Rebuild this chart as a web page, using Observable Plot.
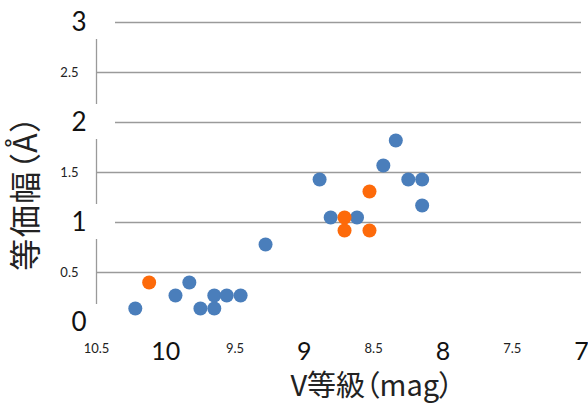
<!DOCTYPE html>
<html><head><meta charset="utf-8">
<script src="https://cdn.jsdelivr.net/npm/d3@7"></script>
<script src="https://cdn.jsdelivr.net/npm/@observablehq/plot@0.6"></script>
<style>body{margin:0;background:#fff}</style>
</head><body><div id="chart"></div>
<script>
// Series 1 (blue): V magnitude, equivalent width
const blueV = [10.22, 9.93, 9.83, 9.75, 9.65, 9.65, 9.56, 9.46, 9.28, 8.89, 8.81, 8.62, 8.43, 8.34, 8.25, 8.15, 8.15];
const blueW = [0.14, 0.27, 0.40, 0.14, 0.14, 0.27, 0.27, 0.27, 0.78, 1.43, 1.05, 1.05, 1.57, 1.82, 1.43, 1.43, 1.17];
// Series 2 (orange)
const orangeV = [10.12, 8.71, 8.71, 8.53, 8.53];
const orangeW = [0.40, 1.05, 0.92, 0.92, 1.31];

const yTicks = [0, 0.5, 1, 1.5, 2, 2.5, 3];
const yTickLabels = ["0", "0.5", "1", "1.5", "2", "2.5", "3"];
const xTicks = [10.5, 10, 9.5, 9, 8.5, 8, 7.5, 7];
const xTickLabels = ["10.5", "10", "9.5", "9", "8.5", "8", "7.5", "7"];
const xTitle = "V等級（mag）";
const yTitle = "等価幅（Å）";

const blue = blueV.map((v, i) => ({v, w: blueW[i]}));
const orange = orangeV.map((v, i) => ({v, w: orangeW[i]}));
const yT = yTicks.map((t, i) => ({t, label: yTickLabels[i], big: Number.isInteger(t)}));
const xT = xTicks.map((t, i) => ({t, label: xTickLabels[i], big: Number.isInteger(t)}));

const numFont = "Lato, 'Open Sans', sans-serif";
const jpFont = "'Noto Sans CJK JP', sans-serif";

const chart = Plot.plot({
  width: 588,
  height: 403,
  marginLeft: 96,
  marginRight: 7,
  marginTop: 22,
  marginBottom: 81,
  x: {domain: [10.5, 7], axis: null},
  y: {domain: [0, 3], axis: null},
  marks: [
    Plot.ruleY(yTicks.filter(d => d > 0), {stroke: "#9a9a9a", strokeWidth: 1.3}),
    Plot.ruleX([10.5], {y1: 0, y2: 3, stroke: "#9a9a9a", strokeWidth: 1.3}),
    Plot.rect(yT.filter(d => d.big), {
      x1: 10.5, x2: 10.5, y1: "t", y2: "t",
      insetLeft: -40, insetRight: -19, insetTop: -18, insetBottom: -17,
      fill: "white"
    }),
    Plot.text(yT.filter(d => !d.big), {
      x: 10.5, y: "t", text: "label", textAnchor: "end", dx: -18,
      fontSize: 13, fontFamily: numFont, fill: "#222"
    }),
    Plot.text(yT.filter(d => d.big), {
      x: 10.5, y: "t", text: "label", textAnchor: "end", dx: -10,
      fontSize: 26, fontFamily: numFont, fill: "#111"
    }),
    Plot.text(xT.filter(d => !d.big), {
      x: "t", y: 0, text: "label", dy: 26, lineAnchor: "middle",
      fontSize: 13, fontFamily: numFont, fill: "#222"
    }),
    Plot.text(xT.filter(d => d.big), {
      x: "t", y: 0, text: "label", dy: 29, lineAnchor: "middle",
      fontSize: 25, fontFamily: numFont, fill: "#111"
    }),
    Plot.dot(blue, {x: "v", y: "w", r: 7, fill: "#4a7ebb", stroke: "none"}),
    Plot.dot(orange, {x: "v", y: "w", r: 7, fill: "#fd6a0a", stroke: "none"}),
    Plot.text([xTitle], {
      frameAnchor: "bottom", text: d => d, dx: 33, dy: 64, lineAnchor: "middle",
      fontSize: 29, fontFamily: jpFont, fill: "#222"
    }),
    Plot.text([yTitle], {
      frameAnchor: "left", textAnchor: "middle", text: d => d, dx: -70, dy: 20, rotate: -90, lineAnchor: "middle",
      fontSize: 32, fontFamily: jpFont, fill: "#222"
    })
  ]
});
chart.style.fontFeatureSettings = "'palt'";
chart.querySelectorAll("text").forEach(t => {
  if (t.textContent === yTitle) t.style.letterSpacing = "1.5px";
});
document.getElementById("chart").appendChild(chart);
</script>
</body></html>
